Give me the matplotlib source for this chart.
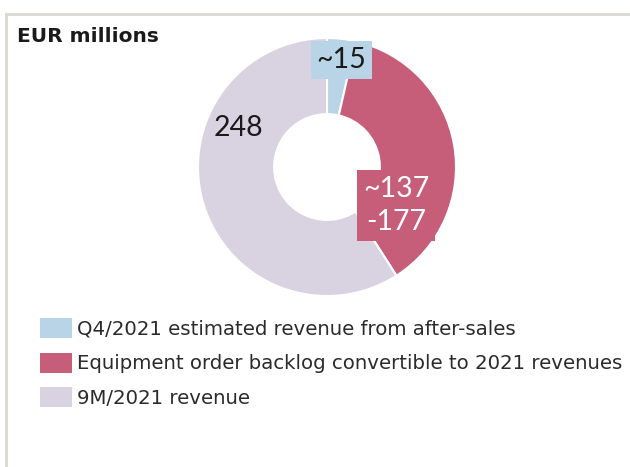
import matplotlib.pyplot as plt
from matplotlib.patches import Patch
from matplotlib.lines import Line2D

# revenue build-up for 2021, EUR millions
segments = ["Q4/2021 estimated revenue from after-sales",
            "Equipment order backlog convertible to 2021 revenues",
            "9M/2021 revenue"]
values = [15, 157, 248]
value_labels = ["~15", "~137\n-177", "248"]
colors = ["#b8d4e6", "#c65e7a", "#d9d3e1"]
label_colors = ["#1a1a1a", "white", "#1a1a1a"]
# label centres in pie units (radius = 1)
label_pos = [(0.11, 0.83), (0.535, -0.30), (-0.69, 0.30)]
label_box = [True, True, False]

W, H = 630, 467
fig = plt.figure(figsize=(W / 100, H / 100), dpi=100)

# panel frame (top and left edges only)
fig.add_artist(Line2D([6 / W, 6 / W], [0, 1 - 14 / H], transform=fig.transFigure,
                      color="#dcd8d4", lw=2))
fig.add_artist(Line2D([6 / W, 1], [1 - 14 / H, 1 - 14 / H], transform=fig.transFigure,
                      color="#dcd8d4", lw=2))

fig.text(17 / W, 1 - 36 / H, "EUR millions", fontsize=14.5, fontweight="bold",
         family="DejaVu Sans", color="#1a1a1a", va="center", ha="left")

cx, cy, r = 327, 167, 129
ax = fig.add_axes([(cx - r) / W, (H - cy - r) / H, 2 * r / W, 2 * r / H])
wedges, _ = ax.pie(values, colors=colors, startangle=90, counterclock=False,
                   radius=1, wedgeprops=dict(width=0.59, edgecolor="white", linewidth=1.5))
ax.set_xlim(-1, 1)
ax.set_ylim(-1, 1)
ax.set_aspect("equal")
ax.axis("off")

for i, lab in enumerate(value_labels):
    x, y = label_pos[i]
    bbox = None
    if label_box[i]:
        bbox = dict(boxstyle="square,pad=0.2", fc=colors[i], ec="none")
    ax.text(x, y, lab, ha="center", va="center", fontsize=20.5, family="Lato",
            color=label_colors[i], linespacing=1.35, bbox=bbox, clip_on=False)

handles = [Patch(facecolor=c, edgecolor="none") for c in colors]
fig.legend(handles, segments, loc="upper left", bbox_to_anchor=(40 / W, 1 - 318 / H),
           frameon=False, prop={"family": "DejaVu Sans", "size": 14.2},
           handlelength=1.6, handleheight=1.2, handletextpad=0.3, labelspacing=0.7,
           borderpad=0, borderaxespad=0, labelcolor="#2b2b2b")

fig.savefig("out.png", dpi=100)
